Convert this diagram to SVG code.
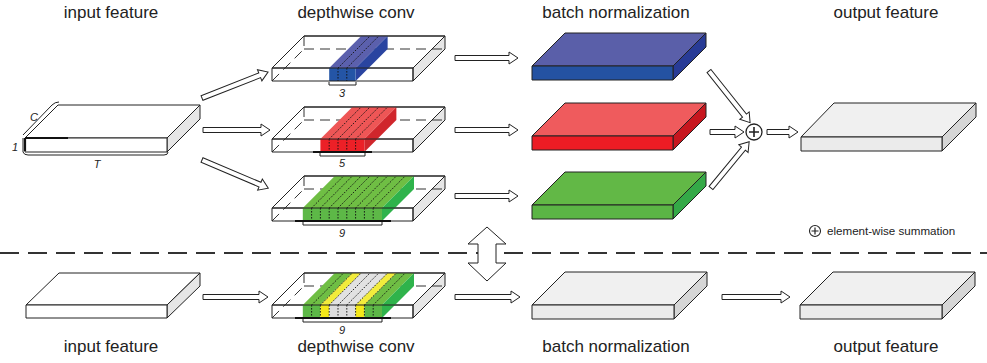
<svg xmlns="http://www.w3.org/2000/svg" width="987" height="363" viewBox="0 0 987 363">
<style>
.lbl{font-family:"Liberation Sans",Arial,sans-serif;font-size:17px;fill:#222;text-anchor:middle}
.it{font-family:"Liberation Sans",Arial,sans-serif;font-size:11px;font-style:italic;fill:#222;text-anchor:middle}
.ed{stroke:#222;stroke-width:1;stroke-linejoin:round}
.hid{fill:none;stroke:#333;stroke-width:1;stroke-dasharray:10,6}
.dot{fill:none;stroke:#111;stroke-width:0.9;stroke-dasharray:1.6,1.4}
.arr{fill:#fff;stroke:#222;stroke-width:1;stroke-linejoin:miter}
.brk{fill:none;stroke:#222;stroke-width:1}
.thick{stroke:#111;stroke-width:2.2}
</style>
<rect width="987" height="363" fill="#fff"/>

<!-- labels -->
<g id="labels">
<text class="lbl" x="111" y="18">input feature</text>
<text class="lbl" x="356" y="18">depthwise conv</text>
<text class="lbl" x="616" y="18">batch normalization</text>
<text class="lbl" x="886" y="18">output feature</text>
<text class="lbl" x="111" y="352">input feature</text>
<text class="lbl" x="356" y="352">depthwise conv</text>
<text class="lbl" x="616" y="352">batch normalization</text>
<text class="lbl" x="886" y="352">output feature</text>
</g>

<!-- separator -->
<line x1="0" y1="253" x2="987" y2="253" stroke="#333" stroke-width="2" stroke-dasharray="19,9"/>

<!-- input feature top -->
<g id="input_top">
<polygon class="ed" points="25,138 167,138 200,105 58,105" fill="#fff"/>
<polygon class="ed" points="167,138 200,105 200,119 167,152" fill="#e6e6e6"/>
<rect class="ed" x="25" y="138" width="142" height="14" fill="#fff"/>
<line x1="25" y1="138" x2="68" y2="138" class="thick"/>
<line x1="25" y1="138" x2="25" y2="151" class="thick"/>
<path class="brk" d="M23,135 L52,105 Q55,102 59,102"/>
<path class="brk" d="M23,138 V152 Q24,155 28,155 H164 Q168,155 168,152"/>
<text class="it" x="34" y="121">C</text>
<text class="it" x="15" y="151">1</text>
<text class="it" x="97" y="168">T</text>
</g>

<!-- input feature bottom -->
<g id="input_bottom">
<polygon class="ed" points="26,305 167,305 200,273 59,273" fill="#fff"/>
<polygon class="ed" points="167,305 200,273 200,286 167,318" fill="#e6e6e6"/>
<rect class="ed" x="26" y="305" width="141" height="13" fill="#fff"/>
</g>

<!-- depthwise conv blue (k=3) -->
<g id="dw_blue">
<polygon class="ed" points="272,68 413,68 445,36 304,36" fill="#fff"/>
<polygon class="ed" points="413,68 445,36 445,49 413,81" fill="#e6e6e6"/>
<path class="hid" d="M272,81 L304,49 M304,36 V49 M304,49 H445"/>
<polygon points="329.2,68 355.6,68 387.6,36 361.2,36" fill="#5b60ad"/>
<polygon points="355.6,68 387.6,36 387.6,49 355.6,81" fill="#2a44a0"/>
<rect x="329.2" y="68" width="26.4" height="13" fill="#2455a6"/>
<path class="dot" d="M338,68 L370,36 M346.8,68 L378.8,36 M338,68 V81 M346.8,68 V81"/>
<path class="ed" fill="none" d="M272,68 H413 M272,68 V81 H413 V68 M272,68 L304,36 H445 L413,68"/>
<path class="brk" d="M329,82 V85 H356 V82"/>
<text class="it" x="342" y="97">3</text>
</g>

<!-- depthwise conv red (k=5) -->
<g id="dw_red">
<polygon class="ed" points="272,139 413,139 445,107 304,107" fill="#fff"/>
<polygon class="ed" points="413,139 445,107 445,120 413,152" fill="#e6e6e6"/>
<path class="hid" d="M272,152 L304,120 M304,107 V120 M304,120 H445"/>
<polygon points="320.4,139 364.4,139 396.4,107 352.4,107" fill="#ee5656"/>
<polygon points="364.4,139 396.4,107 396.4,120 364.4,152" fill="#d0262c"/>
<rect x="320.4" y="139" width="44" height="13" fill="#ec2027"/>
<path class="dot" d="M329.2,139 L361.2,107 M338,139 L370,107 M346.8,139 L378.8,107 M355.6,139 L387.6,107 M329.2,139 V152 M338,139 V152 M346.8,139 V152 M355.6,139 V152"/>
<path class="ed" fill="none" d="M272,139 H413 M272,139 V152 H413 V139 M272,139 L304,107 H445 L413,139"/>
<line x1="313" y1="152" x2="372" y2="152" class="thick"/>
<path class="brk" d="M320,153 V156 H365 V153"/>
<text class="it" x="342" y="167">5</text>
</g>

<!-- depthwise conv green (k=9) -->
<g id="dw_green">
<polygon class="ed" points="272,208 413,208 445,176 304,176" fill="#fff"/>
<polygon class="ed" points="413,208 445,176 445,189 413,221" fill="#e6e6e6"/>
<path class="hid" d="M272,221 L304,189 M304,176 V189 M304,189 H445"/>
<polygon points="302.8,208 382,208 414,176 334.8,176" fill="#6fbe44"/>
<polygon points="382,208 414,176 414,189 382,221" fill="#2fb34b"/>
<rect x="302.8" y="208" width="79.2" height="13" fill="#5db847"/>
<path class="dot" d="M311.6,208 L343.6,176 M320.4,208 L352.4,176 M329.2,208 L361.2,176 M338,208 L370,176 M346.8,208 L378.8,176 M355.6,208 L387.6,176 M364.4,208 L396.4,176 M373.2,208 L405.2,176 M311.6,208 V221 M320.4,208 V221 M329.2,208 V221 M338,208 V221 M346.8,208 V221 M355.6,208 V221 M364.4,208 V221 M373.2,208 V221"/>
<path class="ed" fill="none" d="M272,208 H413 M272,208 V221 H413 V208 M272,208 L304,176 H445 L413,208"/>
<line x1="295" y1="221" x2="391" y2="221" class="thick"/>
<path class="brk" d="M303,222 V225 H382 V222"/>
<text class="it" x="342" y="237">9</text>
</g>

<!-- depthwise conv bottom (mixed) -->
<g id="dw_bottom">
<polygon class="ed" points="272,305 413,305 445,273 304,273" fill="#fff"/>
<polygon class="ed" points="413,305 445,273 445,286 413,318" fill="#e6e6e6"/>
<path class="hid" d="M272,318 L304,286 M304,273 V286 M304,286 H445"/>
<polygon points="302.8,305 320.4,305 352.4,273 334.8,273" fill="#6fbe44"/>
<polygon points="320.4,305 329.2,305 361.2,273 352.4,273" fill="#f2ec3c"/>
<polygon points="329.2,305 355.6,305 387.6,273 361.2,273" fill="#e2e2e2"/>
<polygon points="355.6,305 364.4,305 396.4,273 387.6,273" fill="#f2ec3c"/>
<polygon points="364.4,305 382,305 414,273 396.4,273" fill="#6fbe44"/>
<polygon points="382,305 414,273 414,286 382,318" fill="#2fb34b"/>
<rect x="302.8" y="305" width="17.6" height="13" fill="#5db847"/>
<rect x="320.4" y="305" width="8.8" height="13" fill="#f5e81a"/>
<rect x="329.2" y="305" width="26.4" height="13" fill="#dcdcdc"/>
<rect x="355.6" y="305" width="8.8" height="13" fill="#f5e81a"/>
<rect x="364.4" y="305" width="17.6" height="13" fill="#5db847"/>
<path class="dot" d="M311.6,305 L343.6,273 M320.4,305 L352.4,273 M329.2,305 L361.2,273 M338,305 L370,273 M346.8,305 L378.8,273 M355.6,305 L387.6,273 M364.4,305 L396.4,273 M373.2,305 L405.2,273 M311.6,305 V318 M320.4,305 V318 M329.2,305 V318 M338,305 V318 M346.8,305 V318 M355.6,305 V318 M364.4,305 V318 M373.2,305 V318"/>
<path class="ed" fill="none" d="M272,305 H413 M272,305 V318 H413 V305 M272,305 L304,273 H445 L413,305"/>
<line x1="295" y1="318" x2="391" y2="318" class="thick"/>
<path class="brk" d="M303,319 V322 H382 V319"/>
<text class="it" x="342" y="334">9</text>
</g>

<!-- batch normalization -->
<g id="bn_blue">
<polygon class="ed" points="532,66 673,66 706,33 565,33" fill="#5a5fa9"/>
<polygon class="ed" points="673,66 706,33 706,47 673,80" fill="#283b96"/>
<rect class="ed" x="532" y="66" width="141" height="14" fill="#2452a2"/>
</g>
<g id="bn_red">
<polygon class="ed" points="532,136 673,136 706,103 565,103" fill="#ef5b5d"/>
<polygon class="ed" points="673,136 706,103 706,117 673,150" fill="#c7161e"/>
<rect class="ed" x="532" y="136" width="141" height="14" fill="#ec1c24"/>
</g>
<g id="bn_green">
<polygon class="ed" points="532,205 673,205 706,172 565,172" fill="#62b846"/>
<polygon class="ed" points="673,205 706,172 706,186 673,219" fill="#34a947"/>
<rect class="ed" x="532" y="205" width="141" height="14" fill="#5bb545"/>
</g>
<g id="bn_bottom">
<polygon class="ed" points="532,305 674,305 707,272 565,272" fill="#f0f0f0"/>
<polygon class="ed" points="674,305 707,272 707,286 674,319" fill="#d6d6d6"/>
<rect class="ed" x="532" y="305" width="142" height="14" fill="#ebebeb"/>
</g>

<!-- output features -->
<g id="output_top">
<polygon class="ed" points="801,137 942,137 976,103 834,103" fill="#f0f0f0"/>
<polygon class="ed" points="942,137 976,103 976,117 942,151" fill="#d6d6d6"/>
<rect class="ed" x="801" y="137" width="141" height="14" fill="#ebebeb"/>
</g>
<g id="output_bottom">
<polygon class="ed" points="800,305 942,305 975,272 833,272" fill="#f0f0f0"/>
<polygon class="ed" points="942,305 975,272 975,286 942,319" fill="#d6d6d6"/>
<rect class="ed" x="800" y="305" width="142" height="14" fill="#ebebeb"/>
</g>

<!-- sum node -->
<g id="sum">
<circle cx="754" cy="132" r="8" fill="#fff" stroke="#222" stroke-width="1.3"/>
<path d="M749,132 H759 M754,127 V137" stroke="#222" stroke-width="1.6"/>
</g>

<!-- legend -->
<g id="legend">
<circle cx="815" cy="231" r="5.5" fill="#fff" stroke="#222" stroke-width="1.1"/>
<path d="M811.5,231 H818.5 M815,227.5 V234.5" stroke="#222" stroke-width="1.2"/>
<text x="827" y="235" font-family="Liberation Sans, Arial, sans-serif" font-size="11.6" fill="#222">element-wise summation</text>
</g>

<!-- connectors -->
<g id="connectors">
<path class="arr" transform="translate(202,98) rotate(-21.5)" d="M0,-2.5 H62 V-6 L71,0 L62,6 V2.5 H0 Z"/>
<path class="arr" transform="translate(203,130)" d="M0,-2.5 H58 V-6 L67,0 L58,6 V2.5 H0 Z"/>
<path class="arr" transform="translate(202,160) rotate(23)" d="M0,-2.5 H63 V-6 L72,0 L63,6 V2.5 H0 Z"/>
<path class="arr" transform="translate(455,58)" d="M0,-2.5 H54 V-6 L63,0 L54,6 V2.5 H0 Z"/>
<path class="arr" transform="translate(455,130)" d="M0,-2.5 H54 V-6 L63,0 L54,6 V2.5 H0 Z"/>
<path class="arr" transform="translate(455,196)" d="M0,-2.5 H54 V-6 L63,0 L54,6 V2.5 H0 Z"/>
<path class="arr" transform="translate(709,71) rotate(51.5)" d="M0,-2.5 H57 V-6 L66,0 L57,6 V2.5 H0 Z"/>
<path class="arr" transform="translate(710,132)" d="M0,-2.5 H25 V-6 L34,0 L25,6 V2.5 H0 Z"/>
<path class="arr" transform="translate(711,188) rotate(-50.5)" d="M0,-2.5 H51 V-6 L60,0 L51,6 V2.5 H0 Z"/>
<path class="arr" transform="translate(767,132)" d="M0,-2.5 H22 V-6 L31,0 L22,6 V2.5 H0 Z"/>
<path class="arr" transform="translate(203,297)" d="M0,-2.5 H56 V-6 L65,0 L56,6 V2.5 H0 Z"/>
<path class="arr" transform="translate(455,297)" d="M0,-2.5 H56 V-6 L65,0 L56,6 V2.5 H0 Z"/>
<path class="arr" transform="translate(722,297)" d="M0,-2.5 H59 V-6 L68,0 L59,6 V2.5 H0 Z"/>
<polygon class="arr" points="487,227 468,244 478,244 478,263 468,263 487,281 506,263 496,263 496,244 506,244"/>
</g>
</svg>
